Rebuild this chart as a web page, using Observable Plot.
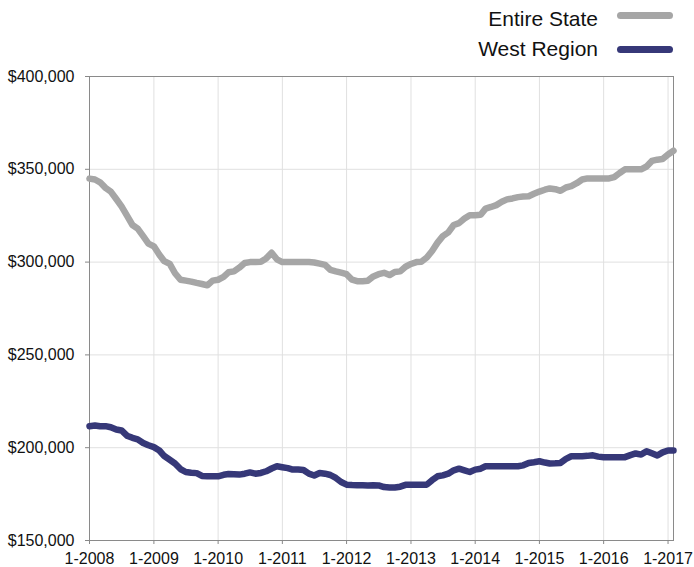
<!DOCTYPE html>
<html>
<head>
<meta charset="utf-8">
<script src="https://cdn.jsdelivr.net/npm/d3@7"></script>
<script src="https://cdn.jsdelivr.net/npm/@observablehq/plot@0.6"></script>
<style>
  html, body { margin: 0; padding: 0; background: #fff; }
  body { width: 694px; height: 567px; overflow: hidden; font-family: "Liberation Sans", Arial, Helvetica, sans-serif; }
  #legend { position: relative; height: 62px; }
  .lbl { position: absolute; right: 96px; font-size: 21px; line-height: 24px; color: #111; white-space: nowrap; }
  .sw { position: absolute; left: 617px; width: 56px; height: 7px; border-radius: 4px; }
</style>
</head>
<body>
<div id="legend"></div>
<div id="chart"></div>
<script>
const seriesNames = ["Entire State", "West Region"];
const seriesColors = ["#a6a6a6", "#363878"];
const startMonth = "2008-01-01";
const xTickYears = [2008, 2009, 2010, 2011, 2012, 2013, 2014, 2015, 2016, 2017];
const yTicks = [150000, 200000, 250000, 300000, 350000, 400000];

const entireState = [
  345000, 344500, 343000, 340000, 338000, 334000, 330000, 325000, 320000, 318000,
  314000, 310000, 308500, 304000, 300500, 299000, 294000, 290500, 290000, 289500,
  288800, 288200, 287500, 290000, 290500, 292000, 294500, 295000, 297000, 299500,
  300000, 300000, 300200, 302000, 305000, 301500, 300000, 300000, 300000, 300000,
  300000, 300000, 299800, 299200, 298500, 295800, 295000, 294300, 293500, 290500,
  289700, 289700, 290000, 292300, 293500, 294200, 293000, 294700, 295000, 297500,
  299000, 300000, 300200, 302500, 306000, 310500, 314000, 316000, 320000, 321000,
  323500, 325300, 325300, 325500, 328800, 329700, 330700, 332500, 333800, 334300,
  335000, 335300, 335500, 336800, 338000, 339000, 339700, 339300, 338400, 340200,
  340900, 342500, 344500, 345100, 345100, 345100, 345100, 345100, 345800, 348000,
  350000, 350000, 350000, 350000, 351500, 354500, 355200, 355500, 358000, 360000
];
const westRegion = [
  211600, 212000, 211600, 211600, 211000, 209800, 209300, 206500, 205300, 204500,
  202500, 201300, 200300, 198500, 195500, 193500, 191500, 188500, 186900, 186500,
  186300, 184800, 184600, 184600, 184600, 185400, 185800, 185700, 185500, 186000,
  186700, 186000, 186400, 187300, 188800, 190000, 189500, 189000, 188200, 188200,
  188000, 186000, 185000, 186400, 186000, 185300, 183700, 181500, 180100, 179900,
  179800, 179800, 179700, 179800, 179700, 178800, 178600, 178600, 179000, 180000,
  180100, 180100, 180100, 180100, 182500, 184600, 185100, 186000, 187800, 188700,
  187800, 186900, 188200, 188700, 190000, 190000, 190000, 190000, 190000, 190000,
  190000, 190500, 191800, 192200, 192700, 192000, 191500, 191600, 191800, 194000,
  195400, 195400, 195400, 195600, 195900, 195200, 194900, 194900, 194900, 194900,
  194900, 196000, 196900, 196300, 198100, 197000, 195800, 197500, 198500, 198500
];

const start = new Date(startMonth + "T00:00:00Z");
const monthOf = i => d3.utcMonth.offset(start, i);
const rows = [];
[entireState, westRegion].forEach((arr, s) => {
  arr.forEach((v, i) => rows.push({series: seriesNames[s], date: monthOf(i), value: v}));
});
const lastDate = monthOf(entireState.length - 1);

// legend
const legend = document.getElementById("legend");
const textTops = [7, 37];
const swatchTops = [12, 46];
seriesNames.forEach((name, i) => {
  const t = document.createElement("div");
  t.className = "lbl";
  t.style.top = textTops[i] + "px";
  t.textContent = name;
  legend.appendChild(t);
  const s = document.createElement("div");
  s.className = "sw";
  s.style.top = swatchTops[i] + "px";
  s.style.background = seriesColors[i];
  legend.appendChild(s);
});

const xTicks = xTickYears.map(y => new Date(Date.UTC(y, 0, 1)));
const fmt = d3.format(",");

const chart = Plot.plot({
  width: 694,
  height: 505,
  marginLeft: 89,
  marginRight: 21,
  marginTop: 14,
  marginBottom: 27,
  style: {fontFamily: "'Liberation Sans', Arial, Helvetica, sans-serif", fontSize: "16px", color: "#111", background: "#fff"},
  x: {type: "utc", domain: [start, lastDate], label: null},
  y: {domain: [150000, 400000], label: null},
  color: {domain: seriesNames, range: seriesColors},
  marks: [
    Plot.gridX(xTicks, {stroke: "#e0e0e0", strokeOpacity: 1, strokeWidth: 1}),
    Plot.gridY(yTicks, {stroke: "#e0e0e0", strokeOpacity: 1, strokeWidth: 1}),
    Plot.frame({stroke: "#8a8a8a", strokeWidth: 1}),
    Plot.axisX({ticks: xTicks, tickFormat: d => "1-" + d.getUTCFullYear(), tickSize: 4, tickPadding: 8, stroke: "#888", fill: "#111", fontSize: 16}),
    Plot.axisY({ticks: yTicks, tickFormat: d => "$" + fmt(d), tickSize: 4, tickPadding: 11, stroke: "#888", fill: "#111", fontSize: 16}),
    Plot.line(rows, {x: "date", y: "value", z: "series", stroke: "series", strokeWidth: 6.5, strokeLinejoin: "round", strokeLinecap: "round"})
  ]
});
document.getElementById("chart").appendChild(chart);
</script>
</body>
</html>
